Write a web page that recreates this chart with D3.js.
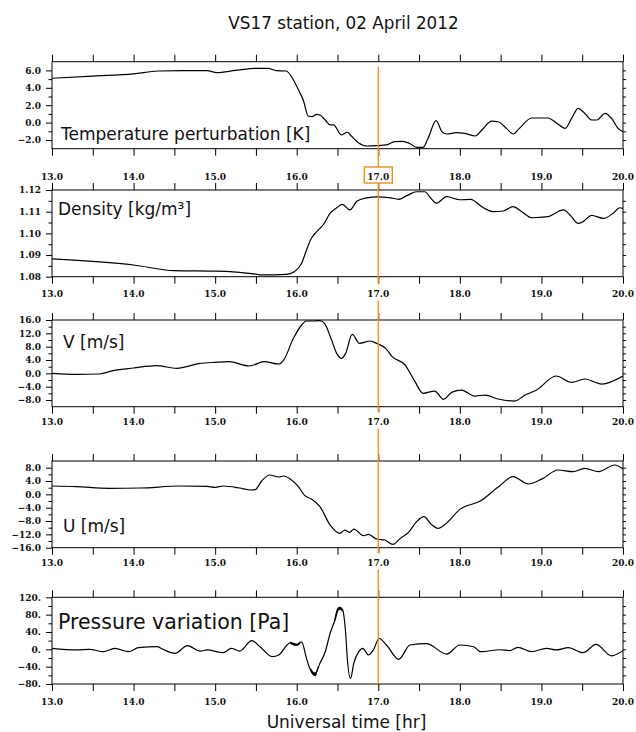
<!DOCTYPE html>
<html lang="en">
<head>
<meta charset="UTF-8">
<title>VS17 station, 02 April 2012</title>
<script src="https://cdn.jsdelivr.net/npm/d3@7"></script>
<style>
    body { margin: 0; background: #fff; }
    .tick text { font-family: "DejaVu Serif", serif; font-weight: bold; font-size: 9px; fill: #111; }
</style>
</head>
<body>
<script type="text/javascript">
    // x axis (universal time, hours)
    var hourLabels = [13, 14, 15, 16, 17, 18, 19, 20];
    var halfHourTicks = [13, 13.5, 14, 14.5, 15, 15.5, 16, 16.5, 17, 17.5, 18, 18.5, 19, 19.5, 20];
    var markHour = 17;

    // temperature perturbation [K]
    var tempHours = [13.0, 13.5, 14.0, 14.3, 14.6, 14.9, 15.02, 15.25, 15.5, 15.65, 15.75, 15.87, 15.96, 16.03, 16.08,
        16.14, 16.19, 16.245, 16.285, 16.35, 16.41, 16.45, 16.55, 16.62, 16.67, 16.755, 16.86, 16.98, 17.1, 17.2,
        17.3, 17.38, 17.47, 17.55, 17.61, 17.71, 17.78, 17.84, 17.96, 18.06, 18.19, 18.27, 18.39, 18.47, 18.57,
        18.655, 18.73, 18.88, 19.08, 19.18, 19.29, 19.37, 19.45, 19.53, 19.615, 19.68, 19.78, 19.86, 19.94, 20.0];
    var tempValues = [5.1, 5.35, 5.6, 5.93, 5.97, 5.97, 5.74, 6.0, 6.24, 6.24, 5.97, 5.93, 4.9, 3.6, 2.6,
        0.76, 0.68, 0.95, 0.87, 0.3, -0.27, -0.27, -1.42, -1.11, -1.54, -2.31, -2.69, -2.65, -2.57, -2.19,
        -2.15, -2.38, -2.84, -2.84, -1.8, 0.22, -1.04, -1.31, -1.16, -1.23, -1.54, -0.85, 0.18, 0.1, -0.66,
        -1.31, -0.66, 0.53, 0.53, -0.01, -0.66, 0.49, 1.64, 1.07, 0.3, 0.3, 1.07, 0.49, -0.66, -1.04];

    // density [kg/m3]
    var densHours = [13.0, 14.0, 14.5, 15.0, 15.5, 15.57, 15.87, 15.97, 16.06, 16.12, 16.18, 16.245, 16.33, 16.41,
        16.49, 16.56, 16.65, 16.74, 16.86, 16.98, 17.15, 17.25, 17.35, 17.47, 17.57, 17.64, 17.71, 17.84, 18.0,
        18.13, 18.29, 18.41, 18.53, 18.65, 18.76, 18.88, 19.08, 19.27, 19.35, 19.45, 19.51, 19.615, 19.76, 19.88,
        19.96, 20.0];
    var densValues = [1.0882, 1.0854, 1.0828, 1.0826, 1.0812, 1.0808, 1.0811, 1.0823, 1.0862, 1.0923, 1.0977, 1.1008, 1.1042, 1.1093,
        1.1118, 1.1134, 1.1108, 1.1149, 1.1164, 1.1168, 1.1164, 1.1157, 1.1174, 1.1192, 1.1192, 1.1164, 1.1139, 1.1169, 1.1155,
        1.1157, 1.1118, 1.1100, 1.1103, 1.1123, 1.1100, 1.1072, 1.1077, 1.1108, 1.1085, 1.1046, 1.1054, 1.1083, 1.1069, 1.1093,
        1.1118, 1.1115];

    // V [m/s]
    var vHours = [13.0, 13.3, 13.58, 13.75, 14.0, 14.28, 14.53, 14.8, 15.0, 15.17, 15.42, 15.6, 15.78, 15.84, 15.96,
        16.06, 16.12, 16.2, 16.28, 16.34, 16.42, 16.49, 16.55, 16.6, 16.68, 16.77, 16.9, 16.98, 17.09, 17.17,
        17.33, 17.45, 17.55, 17.69, 17.8, 17.9, 18.02, 18.18, 18.31, 18.47, 18.67, 18.8, 18.94, 19.18, 19.37,
        19.53, 19.74, 20.0];
    var vValues = [0.0, -0.3, -0.2, 0.8, 1.6, 2.3, 1.5, 2.9, 3.3, 3.5, 2.2, 3.5, 2.8, 4.0, 10.5,
        14.5, 15.7, 15.7, 15.8, 15.0, 10.5, 6.0, 4.5, 6.0, 11.7, 9.0, 9.7, 9.0, 7.5, 5.0,
        2.5, -2.5, -6.0, -5.3, -7.8, -5.7, -5.0, -6.8, -6.5, -7.7, -8.3, -6.5, -5.0, -0.8, -2.7,
        -1.7, -3.2, -0.8];

    // U [m/s]
    var uHours = [13.0, 13.3, 13.7, 14.08, 14.57, 14.9, 15.0, 15.1, 15.3, 15.43, 15.49, 15.57, 15.67, 15.78, 15.84,
        15.92, 16.02, 16.1, 16.18, 16.285, 16.41, 16.53, 16.59, 16.65, 16.7, 16.82, 16.88, 16.98, 17.08, 17.18,
        17.27, 17.37, 17.47, 17.56, 17.65, 17.73, 17.82, 18.0, 18.25, 18.49, 18.65, 18.84, 19.02, 19.2, 19.39,
        19.53, 19.7, 19.9, 20.0];
    var uValues = [2.5, 2.3, 1.8, 1.9, 2.5, 2.4, 2.1, 2.5, 1.9, 1.3, 1.4, 4.0, 5.8, 5.2, 5.5,
        4.6, 2.3, -0.4, -1.4, -3.7, -9.2, -11.7, -10.7, -11.4, -10.4, -12.4, -12.0, -13.4, -13.7, -15.0,
        -13.2, -11.4, -8.2, -6.7, -9.0, -10.2, -9.0, -4.5, -2.0, 2.6, 5.3, 3.1, 4.8, 7.3, 6.8,
        7.8, 6.8, 8.8, 7.6];

    // pressure variation [Pa]
    var presHours = [13.0, 13.3, 13.46, 13.63, 13.77, 13.94, 14.06, 14.29, 14.37, 14.51, 14.66, 14.82, 14.9, 15.1, 15.2,
        15.3, 15.45, 15.55, 15.7, 15.78, 15.92, 16.0, 16.06, 16.12, 16.16, 16.22, 16.285, 16.35, 16.41, 16.47,
        16.52, 16.56, 16.6, 16.62, 16.66, 16.7, 16.76, 16.81, 16.88, 16.94, 17.01, 17.1, 17.25, 17.39, 17.59,
        17.84, 18.0, 18.17, 18.25, 18.49, 18.61, 18.71, 18.88, 19.06, 19.18, 19.33, 19.51, 19.67, 19.86, 20.0];
    var presValues = [2.3, -1.5, 0.0, -5.5, 2.3, -5.5, 3.8, 6.0, -1.0, -9.2, 8.3, -4.0, -1.5, -7.7, 2.3,
        -4.0, 20.0, 6.0, -17.0, -13.0, 15.0, 10.0, 17.0, -21.0, -44.0, -59.0, -32.0, -5.5, 37.0, 67.7,
        97.0, 92.0, 37.0, -21.0, -67.0, -32.0, -5.5, 2.3, -13.0, -1.5, 25.0, 10.0, -23.0, 10.0, 13.0,
        -11.0, 10.0, 6.0, -5.5, -1.0, -3.0, 4.5, -5.5, 2.3, -1.5, 3.8, -7.7, 11.5, -15.0, -3.0];
    // noisy parts of the pressure trace: [hour, low, high]
    var presNoiseA = [[15.92, 12, 18], [15.96, 9, 15], [16.0, 8, 13], [16.04, 12, 18]];
    var presNoiseB = [[16.17, -50, -42], [16.2, -59, -51], [16.23, -62, -53], [16.26, -46, -38]];
    var presNoiseC = [[16.46, 60, 68], [16.5, 85, 95], [16.53, 91, 98], [16.56, 86, 93]];

    var fmt1 = d3.format(".1f");
    var panels = [
        {name: "Temperature perturbation [K]", hours: tempHours, values: tempValues, domain: [-3, 7],
            major: [-2, 0, 2, 4, 6], minor: [-1, 1, 3, 5], right: [-2, -1, 0, 1, 2, 3, 4, 5, 6],
            fmt: fmt1, top: 61.7, bottom: 148.7, labelY: 179.5, nameX: 61, nameY: 140, nameSize: 17},
        {name: "Density [kg/m\u00b3]", hours: densHours, values: densValues, domain: [1.08, 1.12],
            major: [1.08, 1.09, 1.10, 1.11, 1.12], minor: [1.085, 1.095, 1.105, 1.115],
            right: [1.085, 1.09, 1.095, 1.10, 1.105, 1.11, 1.115],
            fmt: d3.format(".2f"), top: 190, bottom: 276.7, labelY: 297, nameX: 58, nameY: 215, nameSize: 17},
        {name: "V [m/s]", hours: vHours, values: vValues, domain: [-10, 16],
            major: [-8, -4, 0, 4, 8, 12, 16], minor: [-6, -2, 2, 6, 10, 14],
            right: [-8, -6, -4, -2, 0, 2, 4, 6, 8, 10, 12, 14],
            fmt: fmt1, top: 320, bottom: 406.7, labelY: 425, nameX: 63, nameY: 348, nameSize: 17},
        {name: "U [m/s]", hours: uHours, values: uValues, domain: [-16, 10],
            major: [-16, -12, -8, -4, 0, 4, 8], minor: [-14, -10, -6, -2, 2, 6],
            right: [-14, -12, -10, -8, -6, -4, -2, 0, 2, 4, 6, 8],
            fmt: fmt1, top: 461, bottom: 547.7, labelY: 566, nameX: 63, nameY: 532, nameSize: 17},
        {name: "Pressure variation [Pa]", hours: presHours, values: presValues, domain: [-80, 120],
            major: [-80, -40, 0, 40, 80, 120], minor: [-60, -20, 20, 60, 100],
            right: [-60, -40, -20, 0, 20, 40, 60, 80, 100],
            fmt: function (d) { return d3.format(".0f")(d) + "."; },
            top: 597.3, bottom: 684, labelY: 705, nameX: 58, nameY: 629, nameSize: 20.5,
            noise: [presNoiseA, presNoiseB, presNoiseC]}
    ];

    var width = 636, height = 732;
    var x = d3.scaleLinear().domain([13, 20]).range([52, 623]);

    var svg = d3.select('body').append('svg')
            .attr('width', width)
            .attr('height', height);

    svg.append('text')
            .attr('x', 343.5).attr('y', 29)
            .attr('text-anchor', 'middle')
            .style('font-family', '"DejaVu Sans", sans-serif')
            .style('font-size', '16.8px')
            .attr('fill', '#111')
            .text('VS17 station, 02 April 2012');

    svg.append('text')
            .attr('x', 346.5).attr('y', 728)
            .attr('text-anchor', 'middle')
            .style('font-family', '"DejaVu Sans", sans-serif')
            .style('font-size', '17px')
            .attr('fill', '#111')
            .text('Universal time [hr]');

    var layerPanels = svg.append('g');
    var layerMark = svg.append('g');
    var layerLabels = svg.append('g');

    panels.forEach(function (p, i) {
        var y = d3.scaleLinear().domain(p.domain).range([p.bottom, p.top]);
        var g = layerPanels.append('g');

        g.append('rect')
                .attr('x', x(13)).attr('y', p.top)
                .attr('width', x(20) - x(13)).attr('height', p.bottom - p.top)
                .attr('fill', 'none').attr('stroke', '#000').attr('stroke-width', 1);

        function ticks(axis, tx, ty) {
            var a = g.append('g').attr('transform', 'translate(' + tx + ',' + ty + ')').call(axis);
            a.select('.domain').remove();
            a.selectAll('line').attr('stroke', '#000');
            return a;
        }
        ticks(d3.axisTop(x).tickValues(halfHourTicks).tickSize(7).tickFormat(''), 0, p.top);
        ticks(d3.axisBottom(x).tickValues(halfHourTicks).tickSize(7).tickFormat(''), 0, p.bottom);
        var la = ticks(d3.axisLeft(y).tickValues(p.major).tickSize(6).tickPadding(5).tickFormat(p.fmt), x(13), 0);
        la.attr('font-family', null).attr('font-size', null);
        ticks(d3.axisLeft(y).tickValues(p.minor).tickSize(3.5).tickFormat(''), x(13), 0);
        ticks(d3.axisRight(y).tickValues(p.right).tickSize(3).tickFormat(''), x(20), 0);

        var clipId = 'clip' + i;
        g.append('clipPath').attr('id', clipId).append('rect')
                .attr('x', x(13)).attr('y', p.top)
                .attr('width', x(20) - x(13)).attr('height', p.bottom - p.top);

        var pts = p.hours.map(function (h, k) { return [h, p.values[k]]; });
        var line = d3.line()
                .x(function (d) { return x(d[0]); })
                .y(function (d) { return y(d[1]); })
                .curve(d3.curveMonotoneX);
        g.append('path')
                .attr('clip-path', 'url(#' + clipId + ')')
                .attr('d', line(pts))
                .attr('fill', 'none')
                .attr('stroke', '#000')
                .attr('stroke-width', 1.2);

        if (p.noise) {
            var area = d3.area()
                    .x(function (d) { return x(d[0]); })
                    .y0(function (d) { return y(d[1]); })
                    .y1(function (d) { return y(d[2]); })
                    .curve(d3.curveMonotoneX);
            p.noise.forEach(function (seg) {
                g.append('path').attr('d', area(seg))
                        .attr('fill', '#000').attr('stroke', 'none');
            });
        }

        g.append('text')
                .attr('x', p.nameX).attr('y', p.nameY)
                .style('font-family', '"DejaVu Sans", sans-serif')
                .style('font-size', p.nameSize + 'px')
                .attr('fill', '#111')
                .text(p.name);

        // hour labels under the panel
        hourLabels.forEach(function (h) {
            var lg = layerLabels.append('g');
            if (h === markHour && i < panels.length - 1) {
                lg.append('rect')
                        .attr('x', x(h) - 14).attr('y', p.labelY - 12.5)
                        .attr('width', 28).attr('height', 16)
                        .attr('fill', '#fff')
                        .attr('stroke', i === 0 ? 'darkorange' : 'none')
                        .attr('stroke-width', 1.4);
            }
            lg.append('text')
                    .attr('x', x(h)).attr('y', p.labelY)
                    .attr('text-anchor', 'middle')
                    .style('font-family', '"DejaVu Serif", serif')
                    .style('font-weight', 'bold')
                    .style('font-size', '9px')
                    .attr('fill', '#111')
                    .text(fmt1(h));
        });
    });

    layerMark.append('line')
            .attr('x1', x(markHour)).attr('x2', x(markHour))
            .attr('y1', 66.7).attr('y2', panels[panels.length - 1].bottom)
            .attr('stroke', 'darkorange')
            .attr('stroke-width', 1.3);
</script>
</body>
</html>
